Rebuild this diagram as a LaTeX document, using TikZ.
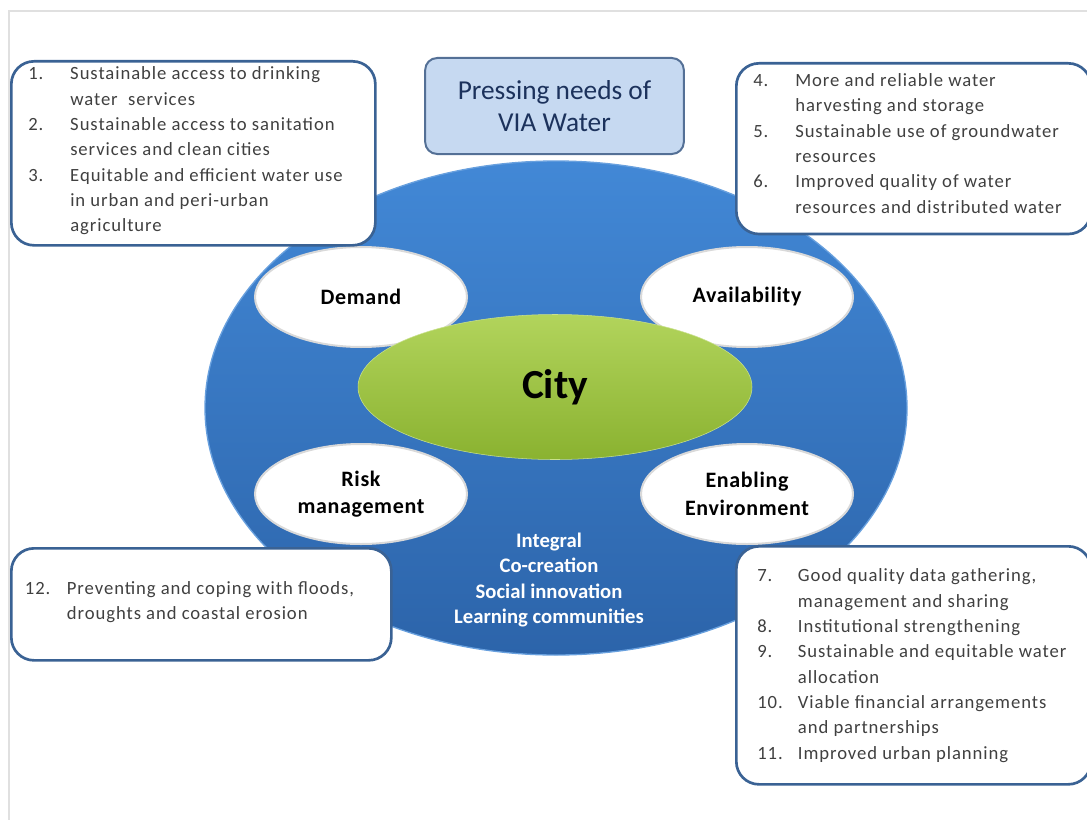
\documentclass[tikz,border=0pt]{standalone}
\usepackage{fontspec}
\setmainfont{Carlito}
\newfontfamily\listfont{Carlito}[LetterSpace=5]
\newfontfamily\labelfont{Carlito}[LetterSpace=3]
\usepackage{array}
\usetikzlibrary{shapes.geometric}
\definecolor{seablue}{RGB}{66,136,214}
\definecolor{deepblue}{RGB}{44,100,170}
\definecolor{limetop}{RGB}{178,212,92}
\definecolor{limebot}{RGB}{138,178,48}
\definecolor{boxline}{RGB}{58,98,148}
\definecolor{titlefill}{RGB}{198,217,241}
\definecolor{titleline}{RGB}{84,112,150}
\definecolor{titletext}{RGB}{28,50,92}
\definecolor{listgray}{RGB}{64,64,64}

\begin{document}
\begin{tikzpicture}[
        x=0.75pt, y=-0.75pt,
        listbox/.style={draw=boxline, line width=2pt, fill=white, rounded corners=17pt,
                        anchor=north west, inner sep=0pt},
        listtext/.style={anchor=west, inner sep=0pt, text=listgray,
                         font=\listfont\fontsize{14}{19}\selectfont},
        aspect/.style={ellipse, fill=white, draw=black!15, line width=1.5pt,
                       minimum width=159pt, minimum height=75pt, align=center,
                       font=\labelfont\fontsize{16.5}{20.5}\selectfont\bfseries}
    ]
        \useasboundingbox (0,0) rectangle (1087,820);
        \draw[black!12, line width=1.2pt] (9,820) -- (9,11) -- (1087,11);

        % the water ring round the city
        \node[ellipse, top color=seablue, bottom color=deepblue, draw=seablue!80!white,
              line width=1pt, minimum width=526.5pt, minimum height=370.5pt] (ring) at (556,408) {};

        \node[aspect] (demand) at (361,297) {Demand};
        \node[aspect] (avail) at (747,297) {Availability};
        \node[aspect] (risk) at (361,494) {Risk\\management};
        \node[aspect] (enable) at (747,494) {Enabling\\Environment};

        \node[ellipse, top color=limetop, bottom color=limebot, draw=limetop!70!white,
              minimum width=295.5pt, minimum height=108.75pt,
              font=\fontsize{31}{34}\selectfont\bfseries] (city) at (555,387) {City};

        \node[text=white, align=center, font=\fontsize{15.5}{18.8}\selectfont\bfseries] (values)
            at (549,580) {Integral\\Co-creation\\Social innovation\\Learning communities};

        % title
        \node[draw=titleline, line width=1.5pt, fill=titlefill, rounded corners=9pt,
              minimum width=194pt, minimum height=72pt, text=titletext, align=center,
              font=\fontsize{20.5}{24}\selectfont] (title) at (554.5,106) {Pressing needs of\\VIA Water};

        % needs per aspect
        \node[listbox, minimum width=273pt, minimum height=138pt] (demandbox) at (10,60) {};
        \node[listtext] (demandlist) at ([xshift=13.5pt, yshift=2pt]demandbox.west) {%
            \begin{tabular}{@{}p{31.5pt}@{}l@{}}
            1. & Sustainable access to drinking\\
               & water\ \ services\\
            2. & Sustainable access to sanitation\\
               & services and clean cities\\
            3. & Equitable and efficient water use\\
               & in urban and peri-urban\\
               & agriculture
            \end{tabular}};

        \node[listbox, minimum width=266pt, minimum height=128pt] (availbox) at (735,62) {};
        \node[listtext] (availlist) at ([xshift=13.5pt, yshift=3pt]availbox.west) {%
            \begin{tabular}{@{}p{31.5pt}@{}l@{}}
            4. & More and reliable water\\
               & harvesting and storage\\
            5. & Sustainable use of groundwater\\
               & resources\\
            6. & Improved quality of water\\
               & resources and distributed water
            \end{tabular}};

        \node[listbox, minimum width=285pt, minimum height=84pt] (riskbox) at (10,547) {};
        \node[listtext] (risklist) at ([xshift=11pt, yshift=2pt]riskbox.west) {%
            \begin{tabular}{@{}p{31.5pt}@{}l@{}}
            12. & Preventing and coping with floods,\\
                & droughts and coastal erosion
            \end{tabular}};

        \node[listbox, minimum width=266pt, minimum height=178.5pt] (enablebox) at (735,545) {};
        \node[listtext] (enablelist) at ([xshift=16.5pt]enablebox.west) {%
            \begin{tabular}{@{}p{30.5pt}@{}l@{}}
            7.  & Good quality data gathering,\\
                & management and sharing\\
            8.  & Institutional strengthening\\
            9.  & Sustainable and equitable water\\
                & allocation\\
            10. & Viable financial arrangements\\
                & and partnerships\\
            11. & Improved urban planning
            \end{tabular}};
    \end{tikzpicture}
\end{document}
